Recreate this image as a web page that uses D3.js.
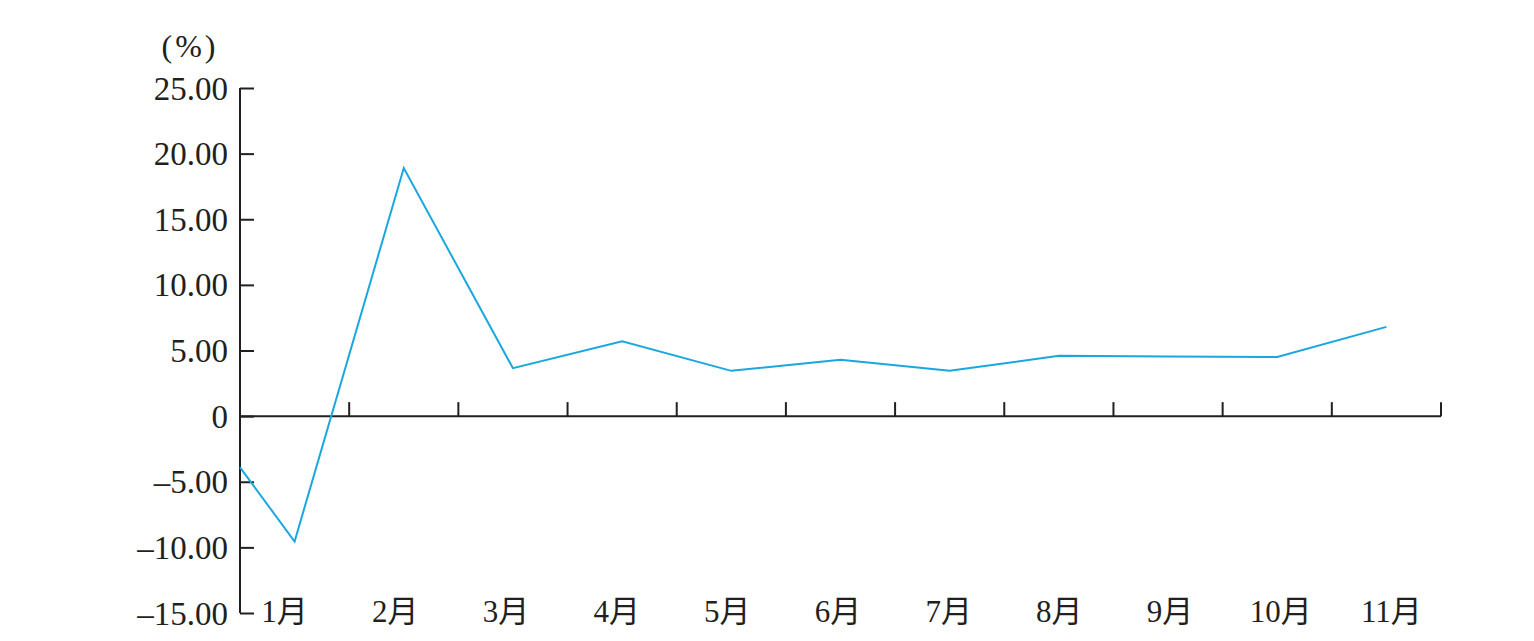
<!DOCTYPE html>
<html>
<head>
<meta charset="utf-8">
<script src="https://cdn.jsdelivr.net/npm/d3@7"></script>
<style>
  html, body { margin: 0; padding: 0; background: #fff; }
  svg { display: block; }
  text { font-family: "Liberation Serif", "Times New Roman", "Noto Sans CJK SC", serif; fill: #231f20; }
</style>
</head>
<body>
<svg id="chart" width="1534" height="641"></svg>
<script>
// ---- data ----
const categories = ["1月","2月","3月","4月","5月","6月","7月","8月","9月","10月","11月"];
const values = [-9.55, 18.9, 3.65, 5.7, 3.45, 4.3, 3.45, 4.6, 4.55, 4.5, 6.8];
const startValue = -3.9;   // value where the line enters at the left edge of the axis
const yTicks = [-15, -10, -5, 0, 5, 10, 15, 20, 25];
const yTickLabels = ["\u201315.00", "\u201310.00", "\u20135.00", "0", "5.00", "10.00", "15.00", "20.00", "25.00"];
const unitLabel = "(%)";

(function () {
// ---- layout ----
const svg = d3.select("#chart");
const mLeft = 240, mRight = 1441, mTop = 88, mBottom = 613;

const y = d3.scaleLinear().domain([-15, 25]).range([mBottom, mTop]);
const xBand = d3.scaleBand().domain(categories).range([mLeft, mRight]).paddingInner(0).paddingOuter(0);
const xIdx = d3.scaleLinear().domain([-0.5, categories.length - 0.5]).range([mLeft, mRight]);
const xLabel = d3.scalePoint().domain(categories)
  .range([xBand("1月") + xBand.bandwidth() / 2 - 10, xBand("11月") + xBand.bandwidth() / 2 + 5]);

const axisColor = "#231f20";

// y axis
const yAxis = d3.axisRight(y).tickValues(yTicks).tickSize(14).tickFormat("");
const gy = svg.append("g").attr("transform", `translate(${mLeft},0)`).call(yAxis);
gy.select(".domain").attr("stroke", axisColor).attr("stroke-width", 2).attr("d", `M0,${mTop}V${mBottom}`);
gy.selectAll(".tick line").attr("stroke", axisColor).attr("stroke-width", 2);

svg.append("g").selectAll("text").data(yTicks).join("text")
  .attr("x", mLeft - 12)
  .attr("y", d => y(d))
  .attr("dy", "0.35em")
  .attr("text-anchor", "end")
  .attr("font-size", 33)
  .text((d, i) => yTickLabels[i]);

// unit label
svg.append("text")
  .attr("x", 190).attr("y", 57)
  .attr("text-anchor", "middle")
  .attr("font-size", 32)
  .attr("letter-spacing", 3)
  .text(unitLabel);

// x axis at zero
const boundaries = categories.map((c, i) => i + 0.5);
const gx = svg.append("g").attr("transform", `translate(0,${y(0)})`);
gx.append("line").attr("x1", mLeft).attr("x2", mRight).attr("y1", 0).attr("y2", 0)
  .attr("stroke", axisColor).attr("stroke-width", 2);
gx.selectAll("line.tick").data(boundaries).join("line").attr("class", "tick")
  .attr("x1", d => xIdx(d)).attr("x2", d => xIdx(d))
  .attr("y1", 0).attr("y2", -14)
  .attr("stroke", axisColor).attr("stroke-width", 2);

// x labels at bottom
svg.append("g").selectAll("text").data(categories).join("text")
  .attr("x", d => xLabel(d))
  .attr("y", 622)
  .attr("text-anchor", "middle")
  .attr("font-size", 31)
  .text(d => d);

// line
const pts = [[-0.5, startValue]].concat(values.map((v, i) => [i, v]));
const line = d3.line().x(d => xIdx(d[0])).y(d => y(d[1]));
svg.append("path").datum(pts)
  .attr("d", line)
  .attr("fill", "none")
  .attr("stroke", "#1aa7df")
  .attr("stroke-width", 2);
})();
</script>
</body>
</html>
